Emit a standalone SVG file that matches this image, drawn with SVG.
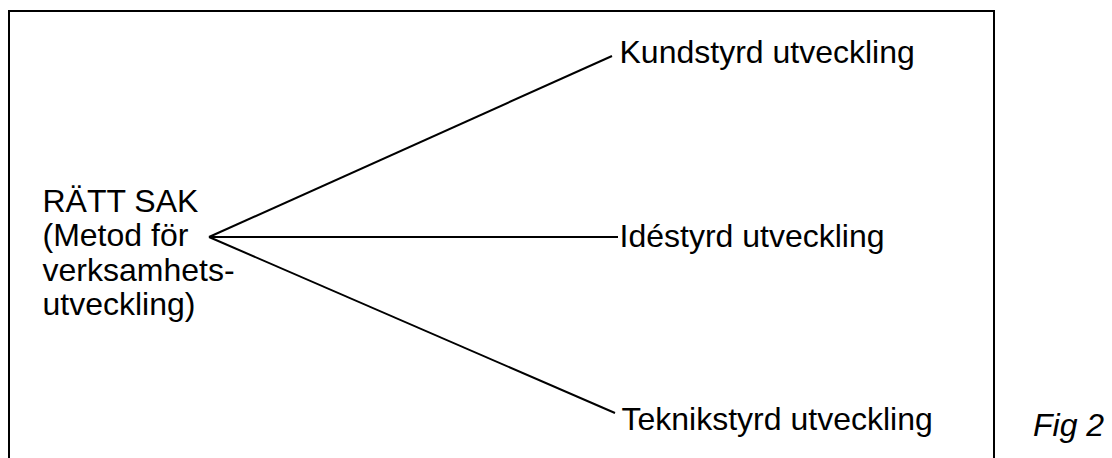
<svg xmlns="http://www.w3.org/2000/svg" width="1112" height="458" viewBox="0 0 1112 458">
  <style>
    .frame { fill: none; stroke: #000; stroke-width: 2; }
    .link { fill: none; stroke: #000; stroke-width: 2; stroke-linecap: butt; }
    .label { font-family: "Liberation Sans", Arial, sans-serif; font-size: 32px; fill: #000; }
    .caption { font-family: "Liberation Sans", Arial, sans-serif; font-size: 32px; font-style: italic; fill: #000; }
  </style>
  <rect width="1112" height="458" fill="#fff"/>

  <!-- outer frame, open at the bottom edge of the page -->
  <rect class="frame" x="9" y="11" width="985" height="470"/>

  <!-- connectors fanning out from the method -->
  <g id="connectors">
    <line class="link" x1="209" y1="237" x2="612" y2="56"/>
    <line class="link" x1="209" y1="237" x2="618" y2="237"/>
    <line class="link" x1="209" y1="237" x2="615" y2="413"/>
  </g>

  <g id="node-ratt-sak">
    <text class="label" x="42.5" y="212">RÄTT SAK</text>
    <text class="label" x="42.5" y="246">(Metod för</text>
    <text class="label" x="42.5" y="281">verksamhets-</text>
    <text class="label" x="42.5" y="315">utveckling)</text>
  </g>

  <g id="node-kundstyrd">
    <text class="label" x="619.5" y="63">Kundstyrd utveckling</text>
  </g>

  <g id="node-idestyrd">
    <text class="label" x="619.5" y="247">Idéstyrd utveckling</text>
  </g>

  <g id="node-teknikstyrd">
    <text class="label" x="621.5" y="430">Teknikstyrd utveckling</text>
  </g>

  <text class="caption" x="1033" y="436">Fig 2</text>
</svg>
